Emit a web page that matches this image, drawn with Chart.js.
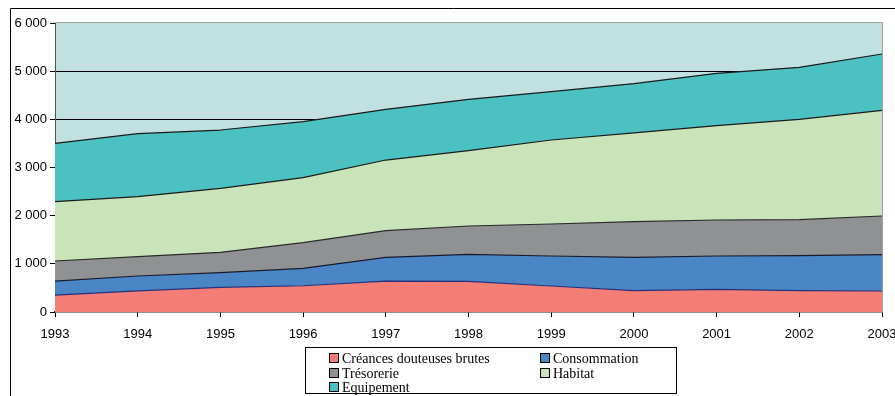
<!DOCTYPE html>
<html>
<head>
<meta charset="utf-8">
<script src="https://cdn.jsdelivr.net/npm/chart.js@4/dist/chart.umd.min.js"></script>
<style>
  html, body { margin: 0; padding: 0; background: #fff; }
  #wrap { position: relative; width: 895px; height: 396px; overflow: hidden; }
  #chart { position: absolute; left: 0; top: 0; }
  #legend {
    position: absolute; left: 305px; top: 347px; width: 372px; height: 47px;
    border: 1px solid #000; box-sizing: border-box; background: #fff;
    font-family: "Liberation Serif", "Times New Roman", serif; font-size: 14px; color: #000;
  }
  .item { position: absolute; height: 14px; line-height: 14px; white-space: nowrap; }
  .sw { display: inline-block; width: 8px; height: 8px; border: 1px solid #000; margin-right: 3px; vertical-align: 0px; }
</style>
</head>
<body>
<div id="wrap">
  <canvas id="chart" width="895" height="396"></canvas>
  <div id="legend"></div>
</div>
<script>
// Years on the horizontal axis
const years = ['1993','1994','1995','1996','1997','1998','1999','2000','2001','2002','2003'];

// Outstanding amounts per category (stacked)
const creancesDouteuses = [350, 440, 510, 545, 640, 635, 540, 445, 470, 443, 436];
const consommation      = [293, 307, 307, 362, 495, 563, 623, 691, 693, 727, 754];
const tresorerie        = [416, 401, 422, 532, 553, 587, 664, 739, 747, 746, 803];
const habitat           = [1231, 1246, 1329, 1349, 1467, 1564, 1744, 1845, 1958, 2084, 2194];
const equipement        = [1212, 1308, 1210, 1163, 1053, 1067, 1003, 1020, 1088, 1080, 1169];

const seriesNames = ['Créances douteuses brutes', 'Consommation', 'Trésorerie', 'Habitat', 'Equipement'];
const seriesData = [creancesDouteuses, consommation, tresorerie, habitat, equipement];
const fillColors = ['#f47e76', '#4a86c6', '#909193', '#c9e4b8', '#4cc1c1'];
const lineColors = ['#26307a', '#1a1a2a', '#2a2a2a', '#1a1a1a', '#1a1a1a'];

// Y axis bounds and tick step
const yMin = 0, yMax = 6000, yStep = 1000;

const fmt = v => String(v).replace(/\B(?=(\d{3})+(?!\d))/g, ' ');

const datasets = seriesData.map((d, i) => ({
  label: seriesNames[i],
  data: d,
  backgroundColor: fillColors[i],
  borderColor: lineColors[i],
  borderWidth: 1.2,
  pointRadius: 0,
  tension: 0,
  fill: i === 0 ? 'origin' : '-1'
}));

// Frame, plot background and plot-area border
const framePlugin = {
  id: 'frame',
  beforeDraw(chart) {
    const ctx = chart.ctx;
    ctx.save();
    ctx.fillStyle = '#fff';
    ctx.fillRect(0, 0, chart.width, chart.height);
    ctx.strokeStyle = '#000';
    ctx.lineWidth = 1;
    ctx.beginPath();
    ctx.moveTo(10.5, chart.height + 2);
    ctx.lineTo(10.5, 8.5);
    ctx.lineTo(chart.width + 2, 8.5);
    ctx.stroke();
    const a = chart.chartArea;
    ctx.fillStyle = '#c1e0e0';
    ctx.fillRect(a.left, a.top, a.right - a.left, a.bottom - a.top);
    ctx.restore();
  },
  afterDatasetsDraw(chart) {
    const ctx = chart.ctx, a = chart.chartArea;
    ctx.save();
    ctx.strokeStyle = '#a0a0a0';
    ctx.lineWidth = 1;
    ctx.beginPath();
    ctx.moveTo(a.left, a.top - 0.5);
    ctx.lineTo(a.right + 0.5, a.top - 0.5);
    ctx.lineTo(a.right + 0.5, a.bottom);
    ctx.stroke();
    ctx.restore();
  }
};

const tickFont = { family: '"Liberation Sans", Arial, sans-serif', size: 13 };

new Chart(document.getElementById('chart'), {
  type: 'line',
  data: { labels: years, datasets },
  options: {
    responsive: false,
    animation: false,
    devicePixelRatio: 1,
    layout: { padding: { top: 23, right: 13, left: 0, bottom: 0 } },
    plugins: { legend: { display: false }, tooltip: { enabled: false } },
    elements: { line: { borderJoinStyle: 'round' } },
    scales: {
      x: {
        offset: false,
        grid: { drawOnChartArea: false, drawTicks: true, tickLength: 5, tickColor: '#000' },
        border: { color: '#222', width: 1.5 },
        ticks: { color: '#000', font: tickFont, padding: 10, maxRotation: 0, autoSkip: false },
        afterFit(s) { s.height = 84; s.paddingLeft = 0; s.paddingRight = 0; }
      },
      y: {
        stacked: true,
        min: yMin, max: yMax,
        grid: {
          color: c => (c.tick && c.tick.value > yMin && c.tick.value < yMax) ? '#000' : 'rgba(0,0,0,0)',
          tickColor: '#000', tickLength: 5, lineWidth: 1
        },
        border: { color: '#555', width: 1 },
        ticks: { stepSize: yStep, color: '#000', font: tickFont, padding: 3, callback: v => fmt(v) },
        afterFit(s) { s.width = 55; s.paddingTop = 0; s.paddingBottom = 0; }
      }
    }
  },
  plugins: [framePlugin]
});

// Two-column legend built from the series
const legend = document.getElementById('legend');
const pos = [[23, 4], [234, 4], [23, 18.5], [234, 18.5], [23, 33]];
seriesNames.forEach((name, i) => {
  const el = document.createElement('div');
  el.className = 'item';
  el.style.left = pos[i][0] + 'px';
  el.style.top = pos[i][1] + 'px';
  const sw = document.createElement('span');
  sw.className = 'sw';
  sw.style.background = fillColors[i];
  el.appendChild(sw);
  el.appendChild(document.createTextNode(name));
  legend.appendChild(el);
});
</script>
</body>
</html>
